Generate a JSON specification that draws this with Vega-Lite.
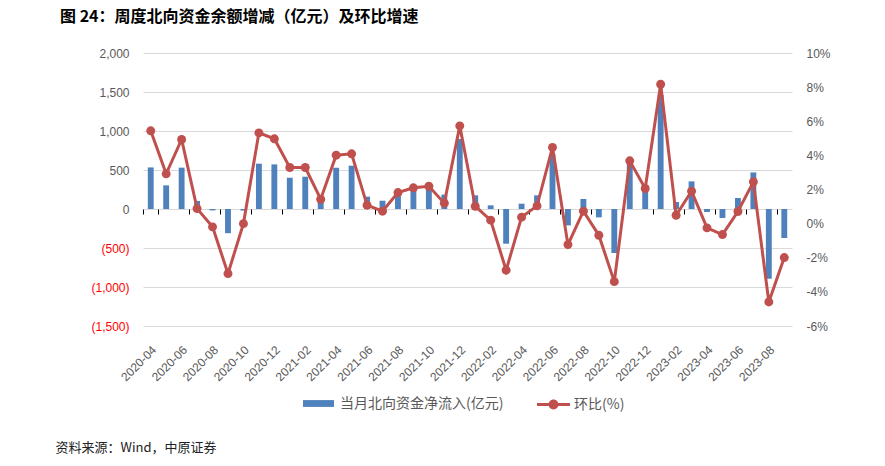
{
  "$schema": "https://vega.github.io/schema/vega-lite/v6.json",
  "autosize": "none",
  "width": 649,
  "height": 273,
  "padding": {"left": 143, "top": 53, "right": 93, "bottom": 140},
  "background": "white",
  "title": {
    "text": "图 24：周度北向资金余额增减（亿元）及环比增速",
    "anchor": "start",
    "frame": "group",
    "dx": -83,
    "offset": 22,
    "font": "Noto Sans CJK SC",
    "fontSize": 16,
    "fontWeight": "bold",
    "color": "#000000"
  },
  "config": {
    "view": {"stroke": null},
    "axis": {"labelFont": "Liberation Sans", "labelFontSize": 12, "labelColor": "#595959"}
  },
  "data": {
    "values": [
      {"month": "2020-04", "flow": 533, "pct": 5.44},
      {"month": "2020-05", "flow": 303, "pct": 2.92},
      {"month": "2020-06", "flow": 530, "pct": 4.93},
      {"month": "2020-07", "flow": 103, "pct": 0.88},
      {"month": "2020-08", "flow": -18, "pct": -0.19},
      {"month": "2020-09", "flow": -310, "pct": -2.93},
      {"month": "2020-10", "flow": -20, "pct": 0.0},
      {"month": "2020-11", "flow": 581, "pct": 5.32},
      {"month": "2020-12", "flow": 572, "pct": 4.97},
      {"month": "2021-01", "flow": 401, "pct": 3.29},
      {"month": "2021-02", "flow": 414, "pct": 3.29},
      {"month": "2021-03", "flow": 130, "pct": 1.43},
      {"month": "2021-04", "flow": 529, "pct": 4.01},
      {"month": "2021-05", "flow": 555, "pct": 4.09},
      {"month": "2021-06", "flow": 158, "pct": 1.08},
      {"month": "2021-07", "flow": 106, "pct": 0.73},
      {"month": "2021-08", "flow": 200, "pct": 1.82},
      {"month": "2021-09", "flow": 247, "pct": 2.10},
      {"month": "2021-10", "flow": 269, "pct": 2.19},
      {"month": "2021-11", "flow": 185, "pct": 1.20},
      {"month": "2021-12", "flow": 897, "pct": 5.73},
      {"month": "2022-01", "flow": 175, "pct": 1.02},
      {"month": "2022-02", "flow": 47, "pct": 0.20},
      {"month": "2022-03", "flow": -445, "pct": -2.73},
      {"month": "2022-04", "flow": 68, "pct": 0.38},
      {"month": "2022-05", "flow": 175, "pct": 1.04},
      {"month": "2022-06", "flow": 700, "pct": 4.47},
      {"month": "2022-07", "flow": -210, "pct": -1.23},
      {"month": "2022-08", "flow": 128, "pct": 0.73},
      {"month": "2022-09", "flow": -107, "pct": -0.68},
      {"month": "2022-10", "flow": -564, "pct": -3.40},
      {"month": "2022-11", "flow": 590, "pct": 3.68},
      {"month": "2022-12", "flow": 230, "pct": 2.06},
      {"month": "2023-01", "flow": 1460, "pct": 8.17},
      {"month": "2023-02", "flow": 90, "pct": 0.49},
      {"month": "2023-03", "flow": 354, "pct": 1.90},
      {"month": "2023-04", "flow": -38, "pct": -0.25},
      {"month": "2023-05", "flow": -115, "pct": -0.64},
      {"month": "2023-06", "flow": 141, "pct": 0.71},
      {"month": "2023-07", "flow": 469, "pct": 2.45},
      {"month": "2023-08", "flow": -894, "pct": -4.59},
      {"month": "2023-09", "flow": -372, "pct": -1.99}
    ]
  },
  "layer": [
    {
      "encoding": {
        "x": {
          "field": "month",
          "type": "ordinal",
          "scale": {"type": "band", "paddingInner": 0, "paddingOuter": 0},
          "axis": {
            "orient": "bottom",
            "domain": false,
            "ticks": false,
            "grid": false,
            "labelAngle": -45,
            "labelPadding": 18,
            "values": ["2020-04","2020-06","2020-08","2020-10","2020-12","2021-02","2021-04","2021-06","2021-08","2021-10","2021-12","2022-02","2022-04","2022-06","2022-08","2022-10","2022-12","2023-02","2023-04","2023-06","2023-08"],
            "title": "资料来源：Wind，中原证券",
            "titleX": -88,
            "titleY": 121,
            "titleAlign": "left",
            "titleAnchor": null,
            "titleAngle": 0,
            "titleBaseline": "middle",
            "titleFont": "Noto Sans CJK SC",
            "titleFontSize": 13,
            "titleFontWeight": "normal",
            "titleColor": "#222222"
          }
        },
        "y": {
          "field": "flow",
          "type": "quantitative",
          "scale": {"domain": [-1500, 2000], "nice": false, "zero": false},
          "axis": {
            "orient": "left",
            "title": null,
            "domain": false,
            "ticks": false,
            "grid": true,
            "gridColor": "#D9D9D9",
            "gridWidth": 1,
            "values": [-1500, -1000, -500, 0, 500, 1000, 1500, 2000],
            "labelPadding": 14,
            "labelExpr": "datum.value < 0 ? '(' + format(-datum.value, ',') + ')' : format(datum.value, ',')",
            "labelColor": {"condition": {"test": "datum.value < 0", "value": "#FF0000"}, "value": "#595959"}
          }
        }
      },
      "layer": [
        {
          "mark": {"type": "bar", "width": {"band": 0.38}},
          "encoding": {
            "color": {
              "datum": "当月北向资金净流入(亿元)",
              "scale": {"range": ["#4F81BD"]},
              "legend": {
                "orient": "none",
                "legendX": 160,
                "legendY": 335,
                "title": null,
                "padding": 0,
                "symbolType": "M-1,-0.22H1V0.22H-1Z",
                "symbolSize": 961,
                "symbolStrokeWidth": 0,
                "labelFont": "Noto Sans CJK SC",
                "labelFontSize": 14,
                "labelColor": "#595959",
                "labelOffset": 6,
                "labelLimit": 400
              }
            }
          }
        },
        {
          "mark": {"type": "rule", "color": "#000000", "strokeWidth": 1},
          "encoding": {"y": {"datum": 0}}
        }
      ]
    },
    {
      "mark": {"type": "line", "strokeWidth": 3, "point": {"filled": true, "size": 80}},
      "encoding": {
        "x": {
          "field": "month",
          "type": "ordinal",
          "axis": {
            "orient": "bottom",
            "offset": -117,
            "labels": false,
            "grid": false,
            "domain": false,
            "ticks": true,
            "tickColor": "#000000",
            "tickSize": 5,
            "tickBand": "extent",
            "values": ["2020-04","2020-06","2020-08","2020-10","2020-12","2021-02","2021-04","2021-06","2021-08","2021-10","2021-12","2022-02","2022-04","2022-06","2022-08","2022-10","2022-12","2023-02","2023-04","2023-06","2023-08"],
            "title": null
          }
        },
        "y": {
          "field": "pct",
          "type": "quantitative",
          "scale": {"domain": [-6, 10], "nice": false, "zero": false},
          "axis": {
            "orient": "right",
            "title": null,
            "domain": false,
            "ticks": false,
            "grid": false,
            "values": [-6, -4, -2, 0, 2, 4, 6, 8, 10],
            "labelPadding": 14,
            "labelExpr": "datum.value + '%'"
          }
        },
        "color": {
          "datum": "环比(%)",
          "scale": {"range": ["#C0504D"]},
          "legend": {
            "orient": "none",
            "legendX": 394,
            "legendY": 335,
            "title": null,
            "padding": 0,
            "symbolType": "M-1,-0.09H1V0.09H-1Z M0.3,0A0.3,0.3,0,1,1,-0.3,0A0.3,0.3,0,1,1,0.3,0Z",
            "symbolSize": 1089,
            "symbolFillColor": "#C0504D",
            "symbolStrokeWidth": 0,
            "labelFont": "Noto Sans CJK SC",
            "labelFontSize": 14,
            "labelColor": "#595959",
            "labelOffset": 4,
            "labelLimit": 400
          }
        }
      }
    }
  ],
  "resolve": {
    "scale": {"y": "independent", "color": "independent"},
    "axis": {"x": "independent"}
  }
}
